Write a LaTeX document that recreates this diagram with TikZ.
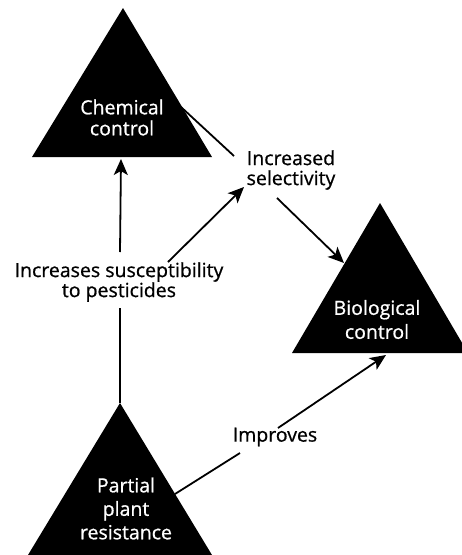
\documentclass[tikz,border=0pt]{standalone}
\usepackage{fontspec}
\setmainfont{Open Sans}
\usetikzlibrary{arrows.meta}
\font\lblf="Open Sans:embolden=0.8" at 19.5pt
\begin{document}
\begin{tikzpicture}[x=1pt,y=-1pt,
  lbl/.style={font=\fontsize{19.5}{20}\selectfont\lblf, align=center, inner sep=0pt},
  wlbl/.style={lbl, text=white},
  conn/.style={line width=1.8pt},
  arr/.style={conn, -{Stealth[length=16pt,width=14pt,inset=4pt]}}]
\useasboundingbox (0,0) rectangle (462,555);
% triangles
\fill (123,8) -- (212,157) -- (32,157) -- cycle;
\fill (380,203) -- (468,353) -- (292,353) -- cycle;
\fill (120,403) -- (212,555) -- (28,555) -- cycle;
% labels
\node[wlbl, font=\fontsize{19.5}{21}\selectfont\lblf] (chem) at (122,117.5) {Chemical\\control};
\node[lbl] (sel) at (291,170) {Increased\\selectivity};
\node[lbl] (sus) at (119,282) {Increases susceptibility\\to pesticides};
\node[wlbl, font=\fontsize{19.5}{24}\selectfont\lblf] (bio) at (377,319.5) {Biological\\control};
\node[wlbl, font=\fontsize{19.5}{23.5}\selectfont\lblf] (pp) at (126,508.5) {Partial\\plant\\resistance};
\node[lbl] (imp) at (275,437) {Improves};
% connector end points
\coordinate (chemR) at (181,107);
\coordinate (chemB) at (121,159);
\coordinate (selL) at (234,156);
\coordinate (selIn) at (244,187);
\coordinate (selOut) at (277,198);
\coordinate (susT) at (120,252);
\coordinate (susB) at (120,308);
\coordinate (susR) at (168,262);
\coordinate (bioL) at (344,263);
\coordinate (bioB) at (386,355);
\coordinate (ppA) at (120,403);
\coordinate (ppR) at (175,494);
\coordinate (impL) at (240,453);
\coordinate (impR) at (278,428);
% connectors
\draw[conn] (chemR) -- (selL);
\draw[arr] (susT) -- (chemB);
\draw[conn] (ppA) -- (susB);
\draw[arr] (susR) -- (selIn);
\draw[arr] (selOut) -- (bioL);
\draw[conn] (ppR) -- (impL);
\draw[arr] (impR) -- (bioB);
\end{tikzpicture}
\end{document}
